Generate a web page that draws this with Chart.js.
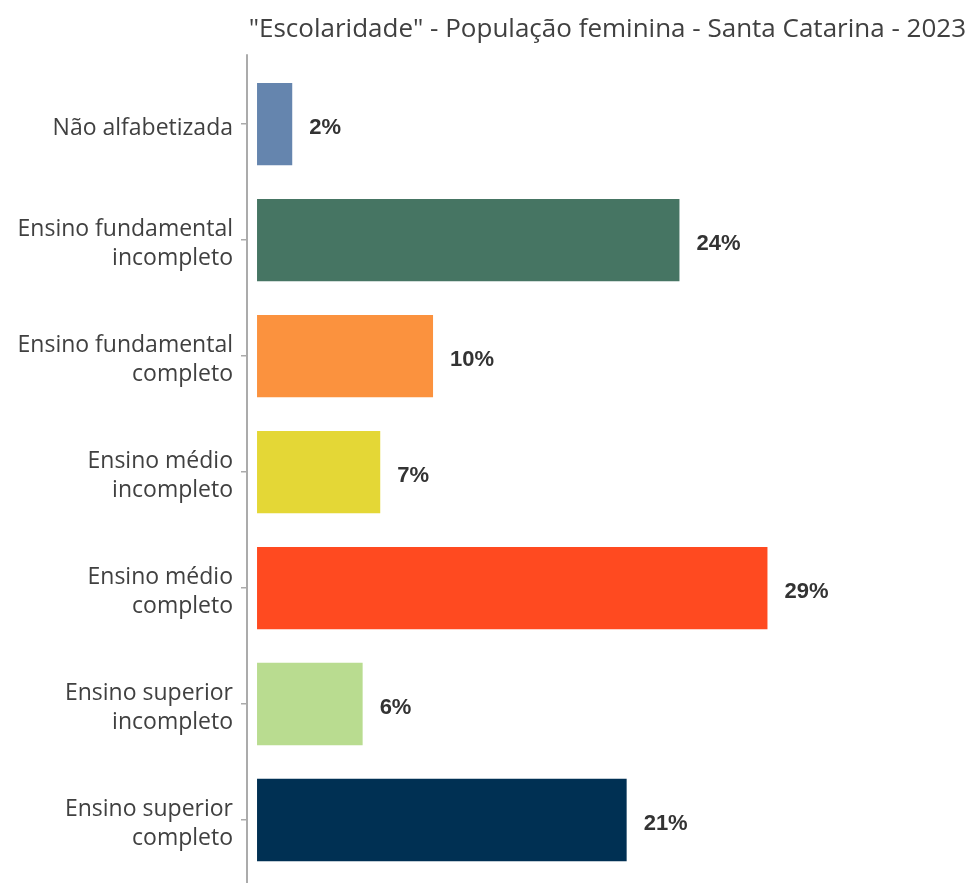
<!DOCTYPE html>
<html>
<head>
<meta charset="utf-8">
<script src="https://cdn.jsdelivr.net/npm/chart.js@4.4.0/dist/chart.umd.min.js"></script>
<style>
  html, body { margin: 0; padding: 0; background: #fff; }
  #wrap { width: 971px; height: 883px; }
</style>
</head>
<body>
<div id="wrap"><canvas id="bar-chart"></canvas></div>
<script>
// dados
const categorias = [
  "Não alfabetizada",
  ["Ensino fundamental", "incompleto"],
  ["Ensino fundamental", "completo"],
  ["Ensino médio", "incompleto"],
  ["Ensino médio", "completo"],
  ["Ensino superior", "incompleto"],
  ["Ensino superior", "completo"],
];
const percentuais = [2, 24, 10, 7, 29, 6, 21];
const cores = ["#6585ae", "#467563", "#fb923e", "#e4d736", "#ff4a20", "#b9dc90", "#003053"];
const titulo = '"Escolaridade" - População feminina - Santa Catarina - 2023';

const fonte = "'Open Sans', sans-serif";
const corEixo = "#ababab";

// escreve o valor na ponta de cada barra
const rotulos = {
  id: "rotulos",
  afterDatasetsDraw(chart) {
    const c = chart.ctx;
    const meta = chart.getDatasetMeta(0);
    c.save();
    c.font = "bold 22px 'Liberation Sans', Arial, sans-serif";
    c.fillStyle = "#333333";
    c.textAlign = "left";
    c.textBaseline = "middle";
    meta.data.forEach((bar, i) => {
      c.fillText(percentuais[i] + "%", bar.x + 17, bar.y + 4);
    });
    c.restore();
  },
};

// linha do eixo vertical um pouco mais comprida que a área do gráfico
const linhaEixo = {
  id: "linhaEixo",
  beforeDatasetsDraw(chart) {
    const c = chart.ctx;
    const x = chart.chartArea.left;
    c.save();
    c.strokeStyle = corEixo;
    c.lineWidth = 2;
    c.beginPath();
    c.moveTo(x, chart.chartArea.top - 12);
    c.lineTo(x, chart.height);
    c.stroke();
    c.restore();
  },
};

const ctx = document.getElementById("bar-chart");
const grafico = new Chart(ctx, {
  type: "bar",
  data: {
    labels: categorias,
    datasets: [
      {
        data: percentuais,
        backgroundColor: cores,
        borderWidth: 0,
        barPercentage: 0.71,
        categoryPercentage: 1,
      },
    ],
  },
  options: {
    indexAxis: "y",
    responsive: true,
    maintainAspectRatio: false,
    animation: false,
    layout: { padding: { left: 10, right: 5, top: 0, bottom: 5 } },
    plugins: {
      legend: { display: false },
      tooltip: { enabled: false },
      title: {
        display: true,
        text: titulo,
        align: "end",
        color: "#404040",
        font: { family: fonte, size: 26, weight: "normal" },
        padding: { top: 14, bottom: 21 },
      },
    },
    scales: {
      x: {
        min: -0.57,
        max: 40.28,
        display: false,
      },
      y: {
        afterFit(scale) {
          scale.width = 237;
          // os rótulos não devem empurrar a área do gráfico
          scale.paddingTop = 0;
          scale.paddingBottom = 0;
        },
        grid: {
          display: true,
          drawOnChartArea: false,
          offset: false,
          tickLength: 6,
          color: corEixo,
          lineWidth: 1.5,
        },
        border: { display: false },
        ticks: {
          color: "#404040",
          padding: 8,
          labelOffset: 4,
          font: { family: fonte, size: 23, lineHeight: 1.28 },
        },
      },
    },
  },
  plugins: [rotulos, linhaEixo],
});
</script>
</body>
</html>
